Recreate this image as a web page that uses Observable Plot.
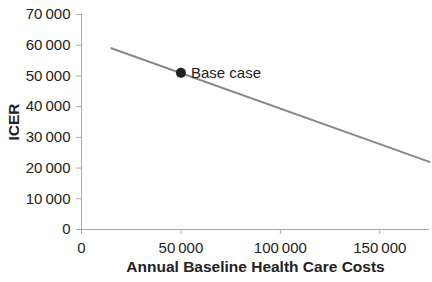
<!DOCTYPE html>
<html><head><meta charset="utf-8">
<script src="https://cdn.jsdelivr.net/npm/d3@7"></script>
<script src="https://cdn.jsdelivr.net/npm/@observablehq/plot@0.6"></script>
<style>body{margin:0;background:#fff;font-family:"Liberation Sans",Arial,sans-serif}</style>
</head><body><div id="chart"></div>
<script>
const lineCosts = [15000, 175000];
const lineIcer = [59000, 22000];
const baseCost = [50000];
const baseIcer = [51000];
const baseLabel = ["Base case"];
const xTicks = [0, 50000, 100000, 150000];
const yTicks = [0, 10000, 20000, 30000, 40000, 50000, 60000, 70000];

const lineData = lineCosts.map((c, i) => ({c, v: lineIcer[i]}));
const baseData = baseCost.map((c, i) => ({c, v: baseIcer[i], t: baseLabel[i]}));
const fmt = d3.formatLocale({thousands: "\u2009", grouping: [3], decimal: ".", currency: ["", ""]}).format(",d");

const chart = Plot.plot({
  width: 432, height: 282,
  marginLeft: 81, marginTop: 14, marginBottom: 53, marginRight: 3,
  style: {fontFamily: "'Liberation Sans', Arial, sans-serif", fontSize: "15px", color: "#222"},
  x: {domain: [0, 175000]},
  y: {domain: [0, 70000]},
  marks: [
    Plot.axisX({ticks: xTicks, tickFormat: fmt, tickSize: 5, tickPadding: 8, stroke: "#aaa", fill: "#222", fontSize: 15,
      label: "Annual Baseline Health Care Costs", labelAnchor: "center", labelArrow: "none", labelOffset: 42}),
    Plot.axisY({ticks: yTicks, tickFormat: fmt, tickSize: 5, tickPadding: 6, stroke: "#aaa", fill: "#222", fontSize: 15,
      label: "ICER", labelAnchor: "center", labelArrow: "none", labelOffset: 74}),
    Plot.ruleX([0], {stroke: "#aaa"}),
    Plot.ruleY([0], {stroke: "#aaa"}),
    Plot.line(lineData, {x: "c", y: "v", stroke: "#888", strokeWidth: 2}),
    Plot.dot(baseData, {x: "c", y: "v", r: 5, fill: "#222", stroke: "none"}),
    Plot.text(baseData, {x: "c", y: "v", text: "t", dx: 10, textAnchor: "start", fontSize: 15, fill: "#222"})
  ]
});
d3.select(chart).selectAll("text").style("font-size", "15px");
d3.select(chart).selectAll("[aria-label='x-axis label'] text, [aria-label='y-axis label'] text")
  .style("font-weight", "bold").style("font-size", "15.5px");
document.getElementById("chart").appendChild(chart);
</script></body></html>
